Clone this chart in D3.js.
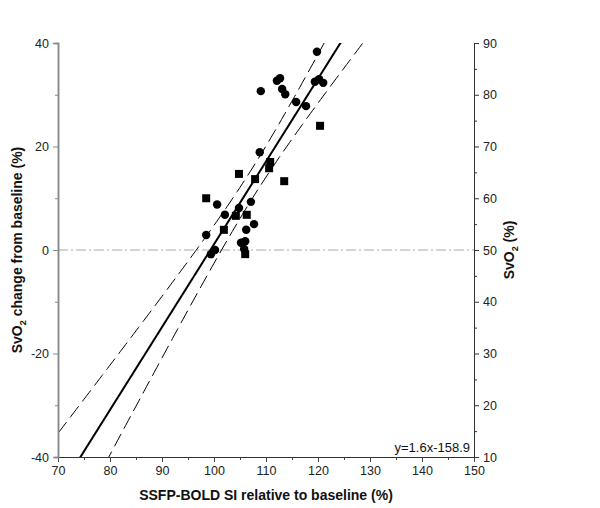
<!DOCTYPE html>
<html><head><meta charset="utf-8">
<script src="https://cdn.jsdelivr.net/npm/d3@7"></script>
<style>body{margin:0;background:#fff}svg{font-family:"Liberation Sans",Arial,sans-serif}</style>
</head><body><svg id="c" width="600" height="508"></svg>
<script>
// Data: x = SSFP-BOLD SI relative to baseline (%), y = SvO2 change (%)
const xs = [109.0,112.1,112.7,113.1,113.7,119.8,119.4,120.2,121.0,115.8,117.7,120.4,108.8,110.8,110.6,107.9,113.5,104.8,98.5,100.6,107.1,104.8,102.1,104.2,106.3,107.7,101.9,106.2,98.5,105.2,106.0,105.8,106.0,100.2,99.4];
const ys = [30.7,32.7,33.2,31.1,30.1,38.3,32.5,33.0,32.3,28.6,27.8,24.0,18.9,17.0,15.8,13.7,13.3,14.7,10.0,8.8,9.3,8.1,6.8,6.6,6.8,5.0,3.9,3.9,2.9,1.4,1.7,0.2,-0.8,0.0,-0.8];
const shapes = ["c","c","c","c","c","c","c","c","c","c","c","s","c","s","s","s","s","s","s","c","c","c","c","s","s","c","s","c","c","c","c","c","s","c","c"];
const slope = 1.6, intercept = -158.9;
const equation = "y=1.6x-158.9";
// confidence band half-width^2 = bandA + bandB*(x-bandCenter)^2
const bandCenter = 107.5, bandA = 8.5, bandB = 0.0878;
const xTicks = [70,80,90,100,110,120,130,140,150];
const yLeftTicks = [-40,-20,0,20,40];
const yRightTicks = [10,20,30,40,50,60,70,80,90];

const svg = d3.select("#c");
const L = 58, R = 474, T = 43, B = 457;
const x = d3.scaleLinear().domain([70,150]).range([L,R]);
const y = d3.scaleLinear().domain([-40,40]).range([B,T]);
const y2 = d3.scaleLinear().domain([10,90]).range([B,T]);
const fmt = d => String(d);

svg.append("clipPath").attr("id","clp").append("rect").attr("x",L).attr("y",T).attr("width",R-L).attr("height",B-T);
const plot = svg.append("g").attr("clip-path","url(#clp)");

// zero line
plot.append("line").attr("x1",L).attr("x2",R).attr("y1",y(0)).attr("y2",y(0))
  .attr("stroke","#aaa").attr("stroke-width",1).attr("stroke-dasharray","10,3,2,3");

// confidence bands
const grid = d3.range(70,150.01,0.5);
const hw = v => Math.sqrt(bandA + bandB*(v-bandCenter)*(v-bandCenter));
const ln = d3.line().x(d=>x(d[0])).y(d=>y(d[1]));
plot.append("path").datum(grid.map(v=>[v, slope*v+intercept+hw(v)])).attr("d",ln)
  .attr("fill","none").attr("stroke","#000").attr("stroke-width",1).attr("stroke-dasharray","14,6");
plot.append("path").datum(grid.map(v=>[v, slope*v+intercept-hw(v)])).attr("d",ln)
  .attr("fill","none").attr("stroke","#000").attr("stroke-width",1).attr("stroke-dasharray","14,6");
// regression line
plot.append("path").datum([[70,slope*70+intercept],[150,slope*150+intercept]]).attr("d",ln)
  .attr("fill","none").attr("stroke","#000").attr("stroke-width",2);

// points
const pts = xs.map((v,i)=>({x:v,y:ys[i],s:shapes[i]}));
svg.append("g").selectAll("path").data(pts).join("path")
  .attr("transform",d=>`translate(${x(d.x)},${y(d.y)})`)
  .attr("d",d=>d3.symbol().type(d.s==="s"?d3.symbolSquare:d3.symbolCircle).size(d.s==="s"?64:56)())
  .attr("fill","#000");

// axes
const fs = 12.5;
// bottom
const gx = svg.append("g").attr("transform",`translate(0,${B})`);
gx.call(d3.axisBottom(x).tickValues(d3.range(70,150.01,5)).tickSize(3).tickFormat(""));
const gx2 = svg.append("g").attr("transform",`translate(0,${B})`);
gx2.call(d3.axisBottom(x).tickValues(xTicks).tickSize(5).tickPadding(4).tickFormat(fmt));
gx2.selectAll("text").attr("font-size",fs).attr("font-family","Liberation Sans, Arial").attr("fill","#222");
[gx,gx2].forEach(g=>{g.select(".domain").attr("stroke","#333");g.selectAll(".tick line").attr("stroke","#444");});
// left
const gl = svg.append("g").attr("transform",`translate(${L},0)`);
gl.call(d3.axisLeft(y).tickValues([-30,-10,10,30]).tickSize(3).tickFormat(""));
const gl2 = svg.append("g").attr("transform",`translate(${L},0)`);
gl2.call(d3.axisLeft(y).tickValues(yLeftTicks).tickSize(5).tickPadding(4).tickFormat(fmt));
gl2.selectAll("text").attr("font-size",fs).attr("font-family","Liberation Sans, Arial").attr("fill","#222");
[gl,gl2].forEach(g=>{g.select(".domain").attr("stroke","#888").attr("stroke-width",1.5);g.selectAll(".tick line").attr("stroke","#888");});
// right
const gr = svg.append("g").attr("transform",`translate(${R},0)`);
gr.call(d3.axisRight(y2).tickValues(d3.range(15,90,10)).tickSize(3).tickFormat(""));
const gr2 = svg.append("g").attr("transform",`translate(${R},0)`);
gr2.call(d3.axisRight(y2).tickValues(yRightTicks).tickSize(5).tickPadding(4).tickFormat(fmt));
gr2.selectAll("text").attr("font-size",fs).attr("font-family","Liberation Sans, Arial").attr("fill","#222");
[gr,gr2].forEach(g=>{g.select(".domain").attr("stroke","#333");g.selectAll(".tick line").attr("stroke","#333");});

// titles
const lt = svg.append("text").attr("transform",`translate(22,${(T+B)/2}) rotate(-90)`)
  .attr("text-anchor","middle").attr("font-size",14).attr("font-weight","bold").attr("fill","#111");
lt.append("tspan").text("SvO");
lt.append("tspan").text("2").attr("font-size",9).attr("dy",4);
lt.append("tspan").text(" change from baseline (%)").attr("dy",-4);
const rt = svg.append("text").attr("transform",`translate(514,${(T+B)/2}) rotate(-90)`)
  .attr("text-anchor","middle").attr("font-size",14).attr("font-weight","bold").attr("fill","#111");
rt.append("tspan").text("SvO");
rt.append("tspan").text("2").attr("font-size",9).attr("dy",4);
rt.append("tspan").text(" (%)").attr("dy",-4);
svg.append("text").attr("x",(L+R)/2).attr("y",500).attr("text-anchor","middle")
  .attr("font-size",14).attr("font-weight","bold").attr("fill","#111").text("SSFP-BOLD SI relative to baseline (%)");
svg.append("text").attr("x",R-4).attr("y",B-5).attr("text-anchor","end").attr("font-size",13).attr("fill","#111").text(equation);
</script></body></html>
